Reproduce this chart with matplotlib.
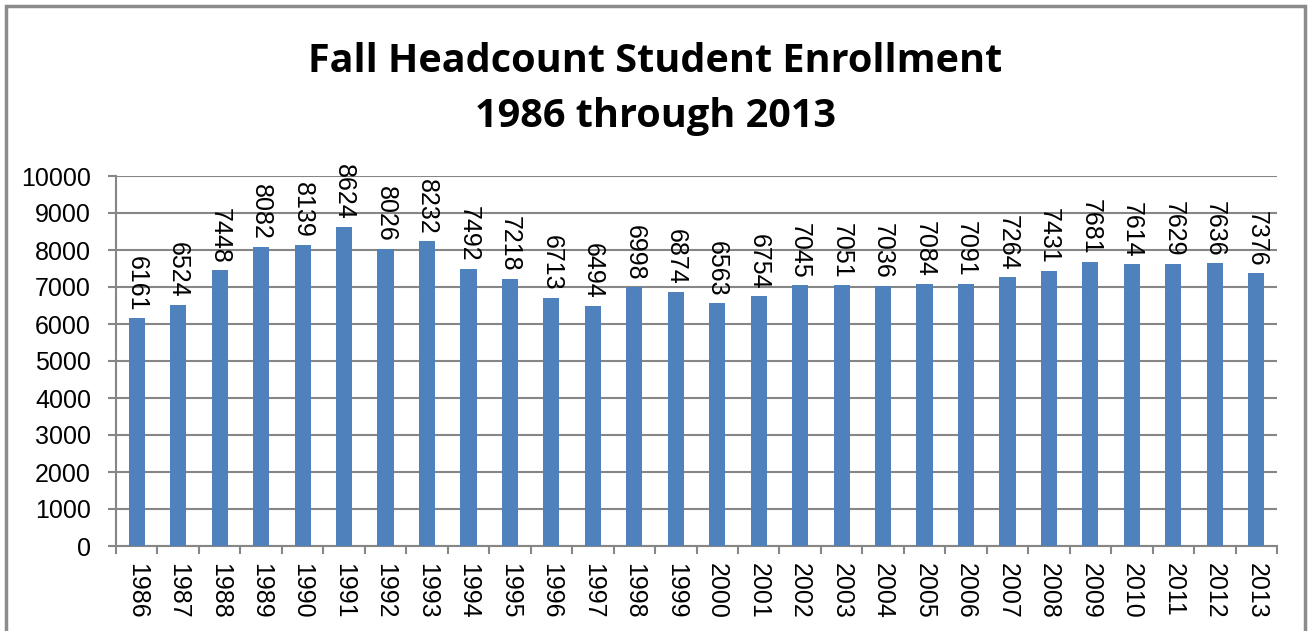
import numpy as np
import matplotlib
matplotlib.use("Agg")
import matplotlib.pyplot as plt
from matplotlib.patches import Rectangle

# fall headcount by year
years = [str(y) for y in range(1986, 2014)]
headcount = [6161, 6524, 7448, 8082, 8139, 8624, 8026, 8232, 7492, 7218,
             6713, 6494, 6998, 6874, 6563, 6754, 7045, 7051, 7036, 7084,
             7091, 7264, 7431, 7681, 7614, 7629, 7636, 7376]
y_ticks = list(range(0, 10001, 1000))

bar_color = "#4F81BD"
grid_color = "#868686"

plt.rcParams['font.family'] = ['Liberation Sans', 'DejaVu Sans']

fig = plt.figure(figsize=(13.13, 6.31), dpi=100)
ax = fig.add_axes([116 / 1313, 85 / 631, 1161 / 1313, 370 / 631])

x = np.arange(len(years))
ax.bar(x, headcount, width=0.39, color=bar_color, zorder=3)

# values above each bar, reading downward
for xi, v in zip(x, headcount):
    ax.annotate(str(v), (xi, v), xytext=(0, 5), textcoords="offset points",
                rotation=270, ha="center", va="bottom", fontsize=18, zorder=4)

ax.set_xlim(-0.5, len(years) - 0.5)
ax.set_ylim(0, 10000)
ax.set_yticks(y_ticks)
ax.set_yticklabels([str(t) for t in y_ticks], fontsize=18)
ax.yaxis.grid(True, color=grid_color, linewidth=1.5, zorder=0)

ax.set_xticks(x)
ax.set_xticklabels(years, rotation=270, fontsize=18)
ax.set_xticks(np.arange(-0.5, len(years)), minor=True)
ax.tick_params(axis="x", which="major", length=0, pad=12)
ax.tick_params(axis="x", which="minor", length=6, width=1.5, color=grid_color)
ax.tick_params(axis="y", length=6, width=1.5, color=grid_color, pad=12)

for side in ("top", "right"):
    ax.spines[side].set_visible(False)
for side in ("left", "bottom"):
    ax.spines[side].set_color(grid_color)
    ax.spines[side].set_linewidth(1.5)

fig.text(0.499, 1 - 89 / 631, "Fall Headcount Student Enrollment\n1986 through 2013",
         ha="center", va="center", fontsize=28.5, fontweight="bold",
         family=["Open Sans", "DejaVu Sans"], linespacing=1.5)

# outer frame
fig.patches.append(Rectangle((6 / 1313, -0.05), 1299 / 1313, 1 - 6 / 631 + 0.05,
                             transform=fig.transFigure, fill=False,
                             edgecolor="#8C8C8C", linewidth=2.5))

fig.savefig("out.png", dpi=100)
